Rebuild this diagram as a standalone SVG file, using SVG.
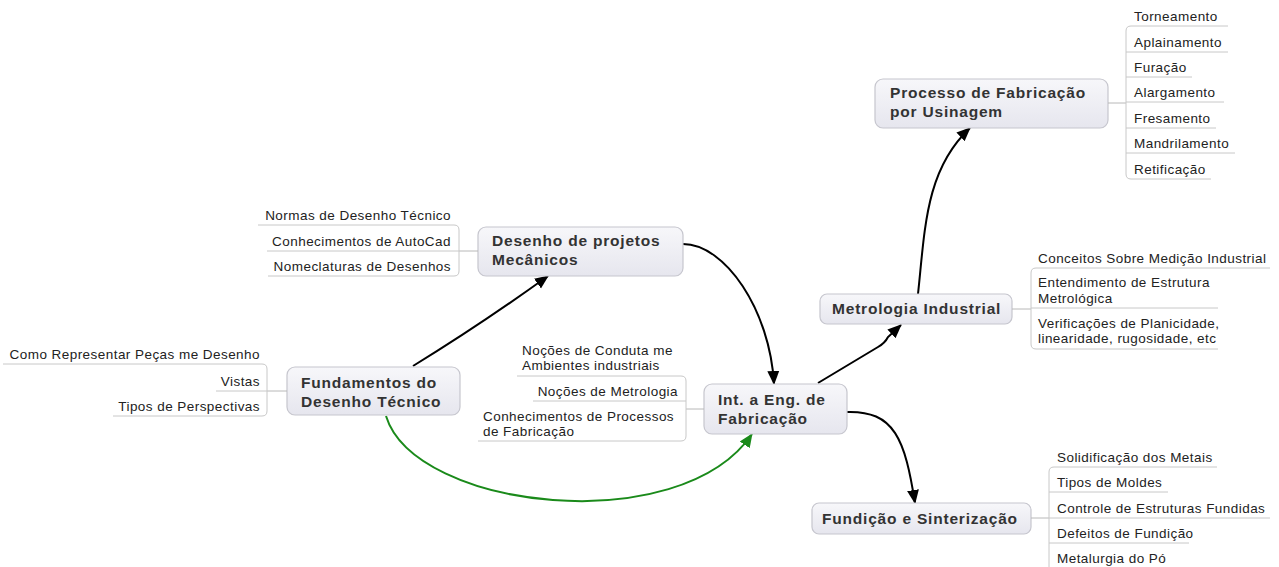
<svg xmlns="http://www.w3.org/2000/svg" width="1279" height="567" viewBox="0 0 1279 567">
<defs>
<linearGradient id="nodeFill" x1="0" y1="0" x2="0" y2="1">
<stop offset="0" stop-color="#f7f7fa"/>
<stop offset="1" stop-color="#e6e6ee"/>
</linearGradient>
<marker id="ahBlack" markerUnits="userSpaceOnUse" markerWidth="14" markerHeight="14" viewBox="0 0 14 14" refX="13" refY="7" orient="auto">
<path d="M0,1 L14,7 L0,13 Z" fill="#000"/>
</marker>
<marker id="ahGreen" markerUnits="userSpaceOnUse" markerWidth="14" markerHeight="14" viewBox="0 0 14 14" refX="13" refY="7" orient="auto">
<path d="M0,1 L14,7 L0,13 Z" fill="#1a8a1a"/>
</marker>
</defs>
<style>
.node rect{fill:url(#nodeFill);stroke:#c6c6ce;stroke-width:1.2}
.title{font-family:"Liberation Sans",Arial,sans-serif;font-weight:bold;font-size:15.5px;letter-spacing:0.8px;fill:#333}
.sub{font-family:"Liberation Sans",Arial,sans-serif;font-size:13.5px;letter-spacing:0.45px;fill:#222}
.end{text-anchor:end}
.brk{fill:none;stroke:#c8c8c8;stroke-width:1}
.link{fill:none;stroke:#b8b8b8;stroke-width:1}
.arrow{fill:none;stroke:#000;stroke-width:2;marker-end:url(#ahBlack)}
.garrow{fill:none;stroke:#1a8a1a;stroke-width:2;marker-end:url(#ahGreen)}
</style>
<rect width="1279" height="567" fill="#fff"/>

<g id="connectors">
<path class="arrow" d="M413,366 Q480,325 548,276"/>
<path class="arrow" d="M683,244 C725,244 770,310 774,384"/>
<path class="arrow" d="M818,383 L878,347 Q885,343 888,337 L901,325"/>
<path class="arrow" d="M918,294 C925,230 925,170 970,128"/>
<path class="arrow" d="M846,412 C895,410 905,440 915,503"/>
<path class="garrow" d="M386,416 C415,510 680,540 752,434"/>
</g>

<g id="node-processo" class="node">
<rect x="875" y="79" width="233" height="49" rx="8"/>
<text class="title" x="890" y="98">Processo de Fabricação</text>
<text class="title" x="890" y="117">por Usinagem</text>
<path class="link" d="M1108,103 L1126,103"/>
<path class="brk" d="M1228,26 L1131,26 Q1126,26 1126,31 L1126,174 Q1126,179 1131,179 L1211,179 M1126,52 L1228,52 M1126,77 L1192,77 M1126,102 L1224,102 M1126,128 L1216,128 M1126,153 L1235,153"/>
<text class="sub" x="1134" y="20.5">Torneamento</text>
<text class="sub" x="1134" y="46.5">Aplainamento</text>
<text class="sub" x="1134" y="71.5">Furação</text>
<text class="sub" x="1134" y="96.5">Alargamento</text>
<text class="sub" x="1134" y="122.5">Fresamento</text>
<text class="sub" x="1134" y="147.5">Mandrilamento</text>
<text class="sub" x="1134" y="173.5">Retificação</text>
</g>

<g id="node-desenho" class="node">
<rect x="478" y="227" width="205" height="49" rx="8"/>
<text class="title" x="492" y="246">Desenho de projetos</text>
<text class="title" x="492" y="265">Mecânicos</text>
<path class="link" d="M459,251 L478,251"/>
<path class="brk" d="M258,225 L454,225 Q459,225 459,230 L459,271 Q459,276 454,276 L268,276 M267,251 L459,251"/>
<text class="sub end" x="451" y="219.5">Normas de Desenho Técnico</text>
<text class="sub end" x="451" y="245.5">Conhecimentos de AutoCad</text>
<text class="sub end" x="451" y="270.5">Nomeclaturas de Desenhos</text>
</g>

<g id="node-fundamentos" class="node">
<rect x="287" y="367" width="173" height="48" rx="8"/>
<text class="title" x="301" y="388">Fundamentos do</text>
<text class="title" x="301" y="407">Desenho Técnico</text>
<path class="link" d="M267,391 L287,391"/>
<path class="brk" d="M3,364 L262,364 Q267,364 267,369 L267,411 Q267,416 262,416 L113,416 M216,391 L267,391"/>
<text class="sub end" x="260" y="358.5">Como Representar Peças me Desenho</text>
<text class="sub end" x="260" y="385.5">Vistas</text>
<text class="sub end" x="260" y="410.5">Tipos de Perspectivas</text>
</g>

<g id="node-int" class="node">
<rect x="704" y="384" width="143" height="50" rx="8"/>
<text class="title" x="718" y="405">Int. a Eng. de</text>
<text class="title" x="718" y="424">Fabricação</text>
<path class="link" d="M686,409 L704,409"/>
<path class="brk" d="M517,376 L681,376 Q686,376 686,381 L686,436 Q686,441 681,441 L478,441 M533,401 L686,401"/>
<text class="sub" x="522" y="355">Noções de Conduta me</text>
<text class="sub" x="522" y="370">Ambientes industriais</text>
<text class="sub end" x="678" y="395.5">Noções de Metrologia</text>
<text class="sub" x="483" y="421">Conhecimentos de Processos</text>
<text class="sub" x="483" y="436">de Fabricação</text>
</g>

<g id="node-metrologia" class="node">
<rect x="820" y="294" width="192" height="30" rx="7"/>
<text class="title" x="832" y="314">Metrologia Industrial</text>
<path class="link" d="M1012,309 L1031,309"/>
<path class="brk" d="M1270,268 L1036,268 Q1031,268 1031,273 L1031,344 Q1031,349 1036,349 L1218,349 M1031,308 L1218,308"/>
<text class="sub" x="1038" y="262.5">Conceitos Sobre Medição Industrial</text>
<text class="sub" x="1038" y="287">Entendimento de Estrutura</text>
<text class="sub" x="1038" y="303">Metrológica</text>
<text class="sub" x="1038" y="327.5">Verificações de Planicidade,</text>
<text class="sub" x="1038" y="343">linearidade, rugosidade, etc</text>
</g>

<g id="node-fundicao" class="node">
<rect x="812" y="503" width="219" height="31" rx="7"/>
<text class="title" x="822" y="523.5">Fundição e Sinterização</text>
<path class="link" d="M1031,518 L1049,518"/>
<path class="brk" d="M1217,467 L1054,467 Q1049,467 1049,472 L1049,567 M1049,492 L1168,492 M1049,518 L1270,518 M1049,543 L1189,543"/>
<text class="sub" x="1057" y="461.5">Solidificação dos Metais</text>
<text class="sub" x="1057" y="486.5">Tipos de Moldes</text>
<text class="sub" x="1057" y="512.5">Controle de Estruturas Fundidas</text>
<text class="sub" x="1057" y="537.5">Defeitos de Fundição</text>
<text class="sub" x="1057" y="563">Metalurgia do Pó</text>
</g>
</svg>
